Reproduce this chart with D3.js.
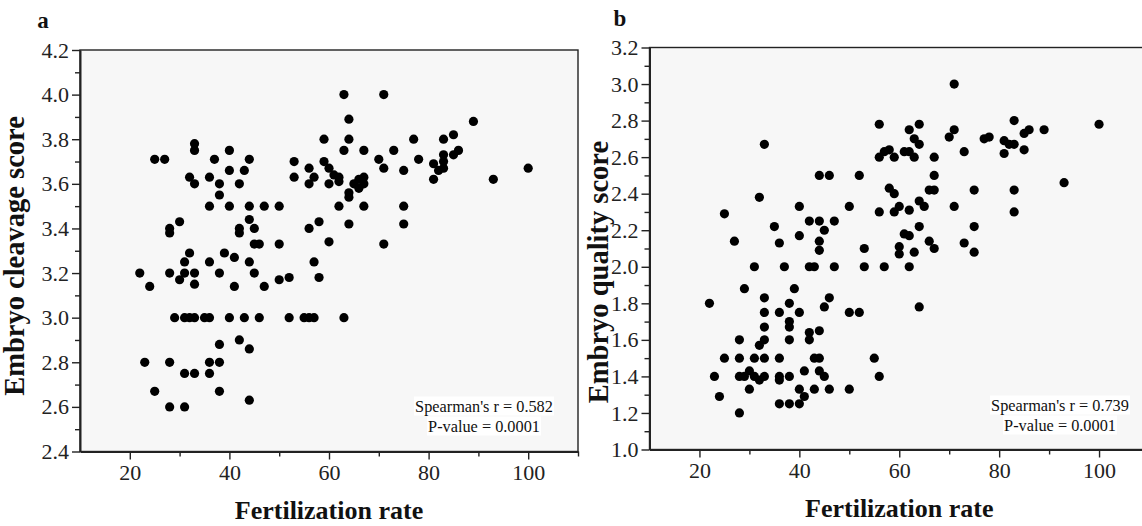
<!DOCTYPE html>
<html>
<head>
<meta charset="utf-8">
<script src="https://cdn.jsdelivr.net/npm/d3@7"></script>
<style>
  html, body { margin: 0; background: #fff; }
  svg { display: block; font-family: "Liberation Serif", "Times New Roman", serif; }
</style>
</head>
<body>
<svg id="chart" width="1142" height="526"></svg>
<script>
/* ---------- data ---------- */
const rateTicks = [20, 40, 60, 80, 100];
const rateMinor = [30, 50, 70, 90, 110];
const cleavageTicks = [2.4, 2.6, 2.8, 3.0, 3.2, 3.4, 3.6, 3.8, 4.0, 4.2];
const qualityTicks = [1.0, 1.2, 1.4, 1.6, 1.8, 2.0, 2.2, 2.4, 2.6, 2.8, 3.0, 3.2];

// [fertilization rate, embryo cleavage score]
const cleavagePts = [
  [33,3.78],[33,3.75],[40,3.75],[25,3.71],[27,3.71],[37,3.71],[44,3.71],[40,3.66],[43,3.66],
  [32,3.63],[36,3.63],[33,3.60],[38,3.60],[42,3.60],[38,3.55],[36,3.50],[40,3.50],[44,3.50],
  [47,3.50],[50,3.50],[30,3.43],[28,3.40],[28,3.38],[44,3.44],[42,3.40],[42,3.38],[45,3.40],
  [45,3.33],[46,3.33],[50,3.33],[32,3.29],[39,3.29],[41,3.27],[31,3.25],[36,3.25],[44,3.25],
  [53,3.70],[53,3.63],[56,3.67],[57,3.63],[56,3.60],[59,3.70],[60,3.67],[60,3.60],[62,3.50],
  [58,3.43],[56,3.40],[60,3.34],[57,3.25],[59,3.80],
  [22,3.20],[28,3.20],[31,3.20],[33,3.20],[38,3.20],[45,3.20],
  [30,3.17],[33,3.15],[24,3.14],[41,3.14],[47,3.14],[50,3.17],[52,3.18],[58,3.18],
  [29,3.00],[31,3.00],[32,3.00],[33,3.00],[35,3.00],[36,3.00],[40,3.00],[43,3.00],[46,3.00],
  [52,3.00],[55,3.00],[56,3.00],[57,3.00],[63,3.00],
  [42,2.90],[38,2.88],[44,2.86],[23,2.80],[28,2.80],[36,2.80],[38,2.80],[31,2.75],[33,2.75],
  [36,2.75],[25,2.67],[38,2.67],[44,2.63],[28,2.60],[31,2.60],
  [63,4.00],[71,4.00],[64,3.89],[89,3.88],[64,3.80],[77,3.80],[83,3.80],[85,3.82],[63,3.75],
  [67,3.75],[73,3.75],[86,3.75],[83,3.73],[85,3.73],[70,3.71],[78,3.71],[81,3.69],[83,3.70],
  [83,3.67],[82,3.66],[71,3.67],[75,3.66],[81,3.62],[93,3.62],[100,3.67],[61,3.64],[62,3.63],
  [62,3.61],[65,3.60],[66,3.62],[67,3.63],[67,3.60],[66,3.58],[64,3.56],[64,3.54],[67,3.50],
  [75,3.50],[64,3.42],[75,3.42],[71,3.33]
];

// [fertilization rate, embryo quality score]
const qualityPts = [
  [25,2.29],[27,2.14],[32,2.38],[33,2.67],[35,2.22],[36,2.13],[40,2.33],[40,2.17],[42,2.25],
  [44,2.50],[46,2.50],[44,2.25],[45,2.20],[47,2.25],[44,2.14],[44,2.09],[50,2.33],[52,2.50],
  [53,2.10],[56,2.78],[56,2.60],[56,2.30],
  [31,2.00],[37,2.00],[42,2.00],[43,2.00],[47,2.00],[53,2.00],[29,1.88],[39,1.88],[22,1.80],
  [33,1.83],[38,1.80],[46,1.83],[45,1.78],[33,1.75],[36,1.75],[40,1.75],[50,1.75],[52,1.75],
  [38,1.70],[38,1.67],[33,1.67],[42,1.64],[44,1.65],[42,1.60],[28,1.60],[33,1.60],[38,1.60],
  [32,1.57],
  [25,1.50],[28,1.50],[31,1.50],[33,1.50],[36,1.50],[43,1.50],[44,1.50],[55,1.50],
  [23,1.40],[28,1.40],[29,1.40],[30,1.43],[31,1.40],[32,1.38],[33,1.40],[36,1.40],[36,1.38],
  [38,1.40],[41,1.43],[44,1.43],[45,1.40],[56,1.40],
  [24,1.29],[30,1.33],[40,1.33],[43,1.33],[46,1.33],[50,1.33],[41,1.29],[36,1.25],[38,1.25],
  [40,1.25],[28,1.20],
  [71,3.00],[62,2.75],[64,2.78],[63,2.70],[64,2.67],[71,2.75],[70,2.71],[73,2.63],[77,2.70],
  [78,2.71],[83,2.80],[85,2.73],[86,2.75],[89,2.75],[100,2.78],[81,2.69],[82,2.67],[83,2.67],
  [85,2.64],[81,2.62],[57,2.63],[58,2.64],[59,2.60],[61,2.63],[62,2.63],[63,2.60],[67,2.60],
  [67,2.50],[58,2.43],[59,2.40],[66,2.42],[67,2.42],[75,2.42],[83,2.42],[93,2.46],[59,2.30],
  [60,2.33],[62,2.31],[64,2.36],[65,2.33],[71,2.33],[83,2.30],[64,2.22],[75,2.22],[61,2.18],
  [62,2.17],[66,2.14],[73,2.13],[60,2.11],[60,2.07],[63,2.08],[67,2.10],[75,2.08],[57,2.00],
  [62,2.00],[64,1.78]
];

const svg = d3.select('#chart');
const INK = '#222';

/* ---------- one scatter panel ---------- */
function panel(o) {
  const x = d3.scaleLinear().domain([10, 110]).range([o.left, o.right]);
  const y = d3.scaleLinear().domain(o.yDomain).range([o.bottom, o.top]);
  const g = svg.append('g');

  g.append('rect')
    .attr('x', o.left).attr('y', o.top)
    .attr('width', o.right - o.left).attr('height', o.bottom - o.top)
    .attr('fill', '#f7f7f7').attr('stroke', INK).attr('stroke-width', 1.4);

  // minor ticks
  const minorY = d3.range(o.yDomain[0] + 0.1, o.yDomain[1], 0.2);
  g.append('g').attr('transform', `translate(${o.left},0)`)
    .call(d3.axisLeft(y).tickValues(minorY).tickSize(5).tickFormat(''))
    .call(s => s.select('.domain').remove());
  g.append('g').attr('transform', `translate(0,${o.bottom})`)
    .call(d3.axisBottom(x).tickValues(rateMinor).tickSize(5).tickFormat(''))
    .call(s => s.select('.domain').remove());

  // major axes
  const ya = g.append('g').attr('transform', `translate(${o.left},0)`)
    .call(d3.axisLeft(y).tickValues(o.yTicks).tickSize(8).tickSizeOuter(0)
      .tickPadding(3).tickFormat(d3.format('.1f')));
  const xa = g.append('g').attr('transform', `translate(0,${o.bottom})`)
    .call(d3.axisBottom(x).tickValues(rateTicks).tickSize(8).tickSizeOuter(0).tickPadding(5));
  [ya, xa].forEach(a => {
    a.selectAll('text').attr('font-size', 22).attr('fill', INK)
      .attr('font-family', '"Liberation Serif", serif');
  });
  g.selectAll('.tick line').attr('stroke', INK).attr('stroke-width', 1.4);
  g.selectAll('.domain').attr('stroke', INK).attr('stroke-width', 2);

  // points
  g.append('g').selectAll('circle').data(o.pts).join('circle')
    .attr('cx', d => x(d[0])).attr('cy', d => y(d[1])).attr('r', 4.6)
    .attr('fill', '#000');

  // titles
  g.append('text')
    .attr('x', x(60)).attr('y', o.bottom + 67)
    .attr('text-anchor', 'middle').attr('font-size', 26).attr('font-weight', 700)
    .attr('fill', '#111').text('Fertilization rate');
  g.append('text')
    .attr('transform', `translate(${o.yTitleX},${o.yTitleY}) rotate(-90)`)
    .attr('text-anchor', 'middle').attr('dominant-baseline', 'central')
    .attr('font-size', 28.5).attr('font-weight', 700).attr('fill', '#111')
    .text(o.yTitle);
  g.append('text')
    .attr('x', o.letterX).attr('y', o.letterY)
    .attr('text-anchor', 'middle').attr('font-size', 23).attr('font-weight', 700)
    .attr('fill', '#111').text(o.letter);

  // statistics box
  const stats = g.append('g');
  o.stats.forEach((line, i) => {
    stats.append('text')
      .attr('x', o.statsX).attr('y', o.statsY + i * 20)
      .attr('text-anchor', 'middle').attr('dominant-baseline', 'central')
      .attr('font-size', 16.3).attr('fill', '#111').text(line);
  });
  stats.selectAll('text').each(function () {
    const b = this.getBBox();
    stats.insert('rect', 'text')
      .attr('x', b.x - 1).attr('y', b.y).attr('width', b.width + 2).attr('height', b.height)
      .attr('fill', '#fff');
  });
}

panel({
  left: 80, right: 578, top: 50, bottom: 451.5,
  yDomain: [2.4, 4.2], yTicks: cleavageTicks, pts: cleavagePts,
  yTitle: 'Embryo cleavage score', yTitleX: 14, yTitleY: 256,
  letter: 'a', letterX: 43, letterY: 28,
  stats: ["Spearman's r = 0.582", 'P-value = 0.0001'], statsX: 484, statsY: 406
});

panel({
  left: 649.5, right: 1149, top: 47.5, bottom: 449.5,
  yDomain: [1.0, 3.2], yTicks: qualityTicks, pts: qualityPts,
  yTitle: 'Embryo quality score', yTitleX: 598, yTitleY: 272,
  letter: 'b', letterX: 620, letterY: 26,
  stats: ["Spearman's r = 0.739", 'P-value = 0.0001'], statsX: 1060, statsY: 405
});
</script>
</body>
</html>
